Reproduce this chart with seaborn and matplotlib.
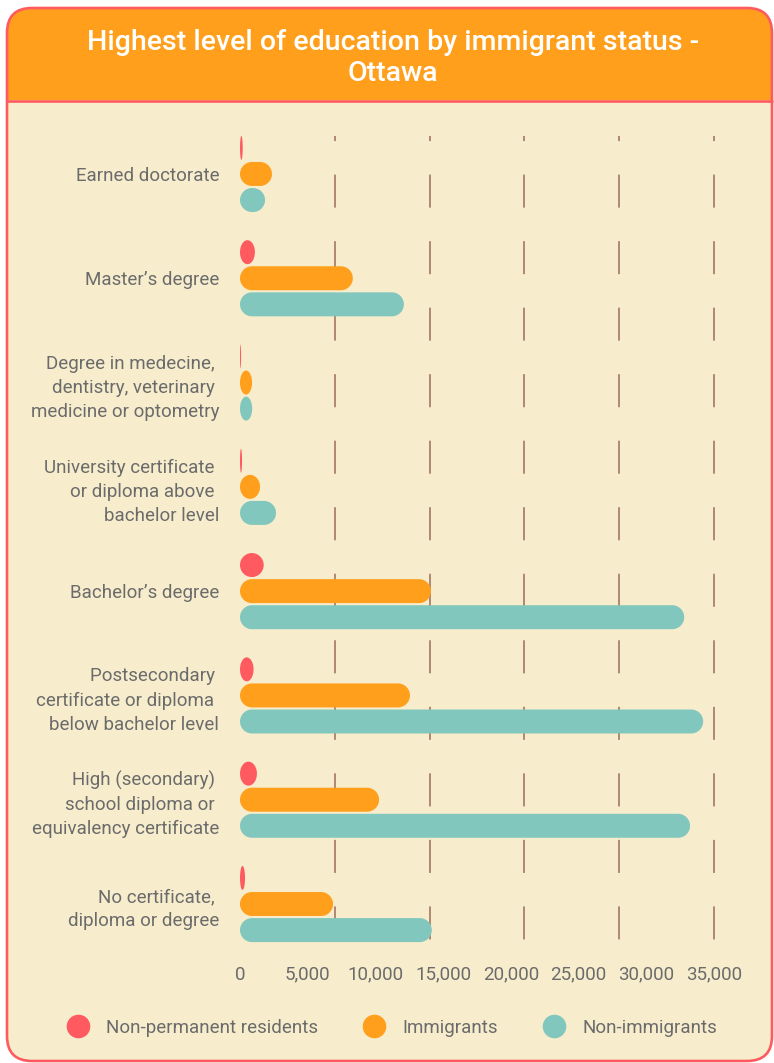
import numpy as np
import pandas as pd
import seaborn as sns
import matplotlib.pyplot as plt
from matplotlib.patches import FancyBboxPatch, Rectangle, Polygon
from matplotlib.lines import Line2D

# values
categories = [
    "Earned doctorate",
    "Master’s degree",
    "Degree in medecine, \ndentistry, veterinary \nmedicine or optometry",
    "University certificate \nor diploma above \nbachelor level",
    "Bachelor’s degree",
    "Postsecondary \ncertificate or diploma \nbelow bachelor level",
    "High (secondary) \nschool diploma or \nequivalency certificate",
    "No certificate, \ndiploma or degree",
]
statuses = ["Non-permanent residents", "Immigrants", "Non-immigrants"]
non_permanent = [200, 1100, 80, 150, 1750, 1000, 1250, 370]
immigrants = [2360, 8330, 890, 1480, 14100, 12550, 10270, 6870]
non_immigrants = [1850, 12100, 900, 2660, 32800, 34200, 33230, 14160]
x_ticks = [0, 5000, 10000, 15000, 20000, 25000, 30000, 35000]
grid_ticks = [7000, 14000, 21000, 28000, 35000]

colors = ["#FF5A5F", "#FF9F1C", "#82C7BD"]
cream = "#F7EDCD"
coral = "#FF5A5F"
gray = "#6B6B6B"

df = pd.DataFrame({
    "category": categories * 3,
    "status": np.repeat(statuses, len(categories)),
    "value": non_permanent + immigrants + non_immigrants,
})

sns.set_theme(style="white")
plt.rcParams["font.family"] = ["Roboto", "DejaVu Sans"]
plt.rcParams["lines.scale_dashes"] = False

W, H = 774, 1063
fig = plt.figure(figsize=(W / 100, H / 100), dpi=100)
fig.patch.set_facecolor("white")

# background card
bg = fig.add_axes([0, 0, 1, 1], zorder=0)
bg.set_xlim(0, W)
bg.set_ylim(H, 0)
bg.axis("off")
card = FancyBboxPatch((7, 8), 765, 1053, boxstyle="round,pad=0,rounding_size=25",
                      fc=cream, ec="none")
bg.add_patch(card)
band = Rectangle((0, 0), W, 100, fc="#FF9F1C", ec="none")
bg.add_patch(band)
band.set_clip_path(card)
bg.plot([7, 772], [100.5, 100.5], color=coral, lw=1.9)
bg.add_patch(FancyBboxPatch((7, 8), 765, 1053, boxstyle="round,pad=0,rounding_size=25",
                            fc="none", ec=coral, lw=1.9))
bg.text(393, 58, "Highest level of education by immigrant status -\nOttawa",
        ha="center", va="center", color="white", fontsize=20.5, fontweight="medium",
        linespacing=1.18)

# main axes
top, bottom = 136, 945
ax = fig.add_axes([240 / W, (H - bottom) / H, (W - 240) / W, (bottom - top) / H], zorder=1)
ax.patch.set_alpha(0)

sns.barplot(data=df, y="category", x="value", hue="status", orient="h",
            order=categories, hue_order=statuses, palette=colors, saturation=1,
            width=0.75, gap=0.08, legend=False, ax=ax)

ax.set_xlim(0, 39430)
ax.set_ylim(7.393, -0.364)
ax.set_xlabel("")
ax.set_ylabel("")
for s in ax.spines.values():
    s.set_visible(False)

ax.set_xticks(x_ticks)
ax.set_xticklabels([f"{v:,}" for v in x_ticks])
ax.tick_params(axis="x", length=0, pad=15, labelcolor=gray, labelsize=13.5)
ax.tick_params(axis="y", length=0, pad=15, labelcolor=gray, labelsize=13.5)
for lab in ax.get_yticklabels():
    lab.set_linespacing(1.43)
ax.grid(False)
for v in grid_ticks:
    ax.axvline(v, color="#9C6B5E", lw=1.1, linestyle=(43.9, (23.8, 24.1)), zorder=0.5)

# turn the bars into pills
o = ax.transData.transform((0, 0))
sx = abs(ax.transData.transform((1, 0))[0] - o[0])
sy = abs(ax.transData.transform((0, 1))[1] - o[1])
t = np.linspace(-np.pi / 2, np.pi / 2, 40)
for p in list(ax.patches):
    x0, y0, w, h = p.get_x(), p.get_y(), p.get_width(), p.get_height()
    fc = p.get_facecolor()
    p.remove()
    yc = y0 + h / 2
    rx = min(w / 2, (h * sy / 2) / sx)
    ry = h / 2
    right = np.column_stack([x0 + w - rx + rx * np.cos(t), yc + ry * np.sin(t)])
    left = np.column_stack([x0 + rx - rx * np.cos(t), yc - ry * np.sin(t)])
    ax.add_patch(Polygon(np.vstack([right, left]), closed=True, fc=fc, ec="none", zorder=2))

handles = [Line2D([], [], marker="o", ls="", ms=17, mfc=c, mec="none") for c in colors]
fig.legend(handles, statuses, loc="center", bbox_to_anchor=(388 / W, 1 - 1028 / H),
           ncol=3, frameon=False, fontsize=13.5, labelcolor=gray,
           handlelength=2.0, handletextpad=0.5, columnspacing=2.0)

fig.savefig("out.png", dpi=100, facecolor="white")
